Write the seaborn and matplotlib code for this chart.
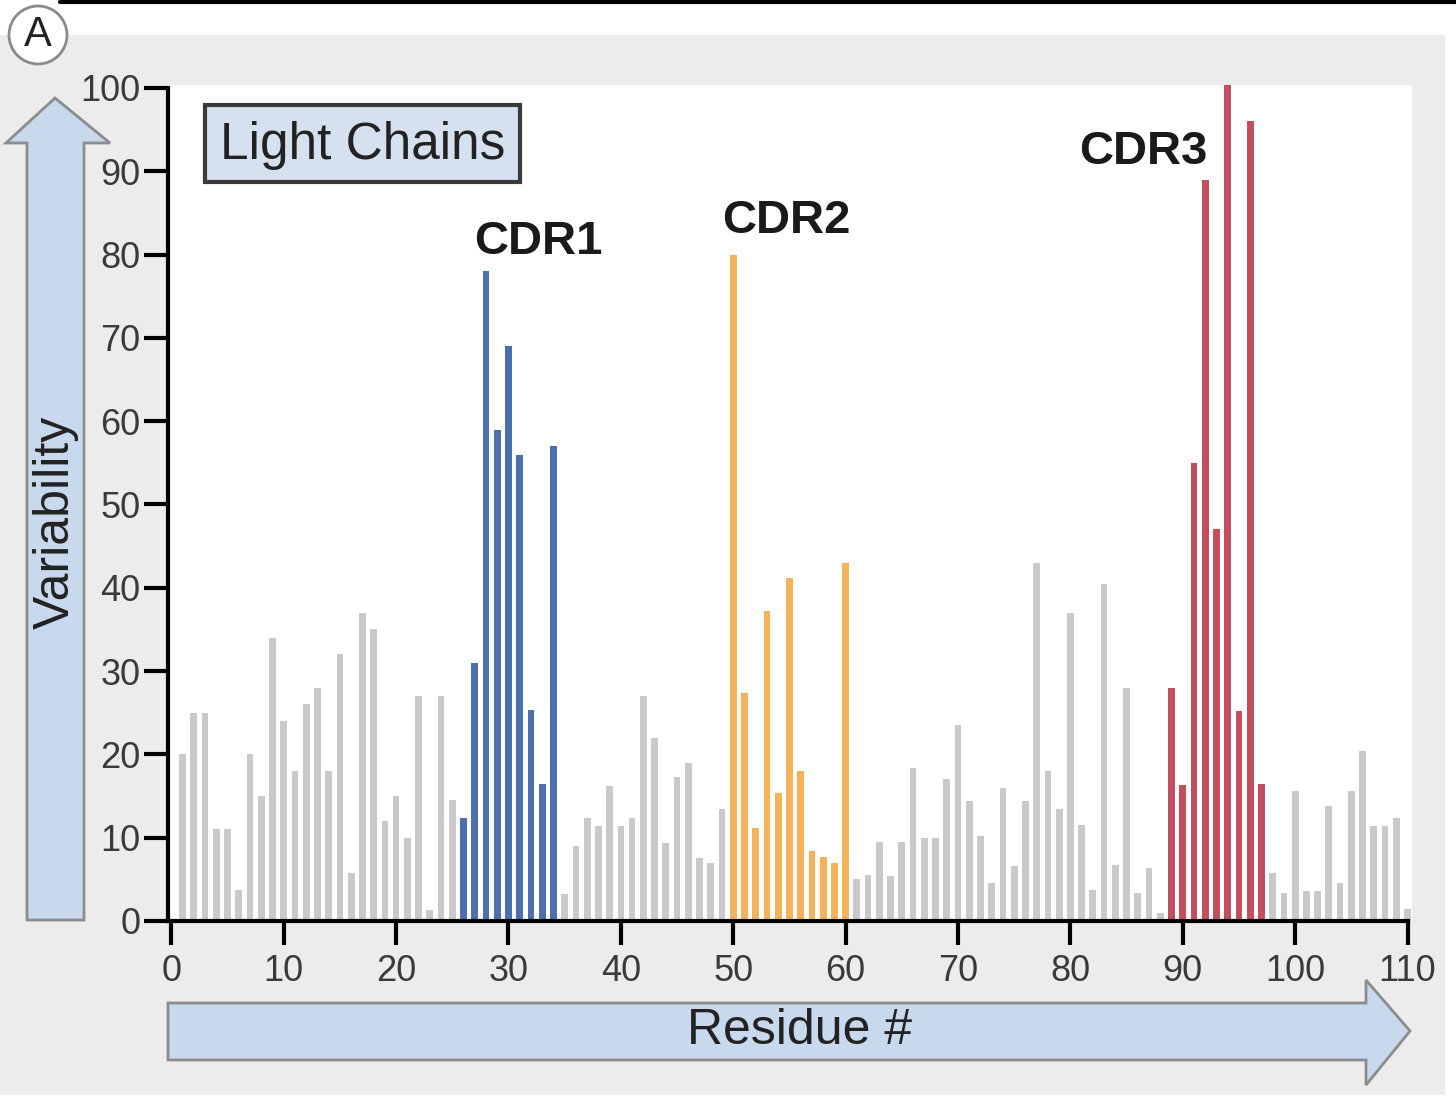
import numpy as np
import pandas as pd
import seaborn as sns
import matplotlib.pyplot as plt
from matplotlib.patches import Polygon, Rectangle, Circle

# variability per residue (light chains)
residues = list(range(1, 111))
variability = [20, 25, 25, 11, 11, 3.7, 20, 15, 34, 24,
               18, 26, 28, 18, 32, 5.8, 37, 35, 12, 15,
               10, 27, 1.3, 27, 14.5, 12.4, 31, 78, 59, 69,
               56, 25.3, 16.4, 57, 3.2, 9, 12.4, 11.4, 16.2, 11.4,
               12.4, 27, 22, 9.4, 17.3, 19, 7.6, 7, 13.5, 80,
               27.4, 11.2, 37.2, 15.4, 41.2, 18, 8.4, 7.7, 7, 43,
               5, 5.5, 9.5, 5.4, 9.5, 18.4, 10, 10, 17, 23.5,
               14.4, 10.2, 4.6, 16, 6.6, 14.4, 43, 18, 13.5, 37,
               11.5, 3.7, 40.5, 6.7, 28, 3.4, 6.4, 1, 28, 16.3,
               55, 89, 47, 100.5, 25.2, 96, 16.4, 5.8, 3.4, 15.6,
               3.6, 3.6, 13.8, 4.6, 15.6, 20.4, 11.4, 11.4, 12.4, 1.4]

cdr_names = ["CDR1", "CDR2", "CDR3"]
cdr_start = [26, 50, 89]
cdr_end = [34, 60, 97]
cdr_label_x = [32.7, 54.7, 86.5]
cdr_label_y = [81.5, 84.0, 92.3]

palette = {"other": "#c9c9c9", "CDR1": "#4c6fae",
           "CDR2": "#f4b358", "CDR3": "#c24e60"}


def region_of(r):
    for name, a, b in zip(cdr_names, cdr_start, cdr_end):
        if a <= r <= b:
            return name
    return "other"


df = pd.DataFrame({"residue": residues, "variability": variability})
df["region"] = [region_of(r) for r in residues]

sns.set_style("white")
plt.rcParams["font.family"] = ["Liberation Sans", "DejaVu Sans"]

W, H = 1456, 1105
fig = plt.figure(figsize=(W / 100, H / 100), dpi=100)
fig.patch.set_facecolor("white")

# background layer in pixel coordinates
bg = fig.add_axes([0, 0, 1, 1], zorder=0)
bg.set_xlim(0, W)
bg.set_ylim(H, 0)
bg.axis("off")
bg.add_patch(Rectangle((0, 35), 1445, 1060, facecolor="#ececec", edgecolor="none"))
bg.plot([60, W], [1.5, 1.5], color="black", lw=3)
bg.add_patch(Circle((38, 35), 29, facecolor="white", edgecolor="#8a8a8a", lw=2))
bg.text(38, 35, "A", ha="center", va="center", fontsize=30, color="#222222")

arrow_fill = "#c8d8ed"
arrow_edge = "#8c8c8c"
# vertical arrow (Variability)
bg.add_patch(Polygon([(27, 920), (27, 143), (6, 143), (55, 98), (110, 143),
                      (84, 143), (84, 920)], closed=True,
                     facecolor=arrow_fill, edgecolor=arrow_edge, lw=2))
bg.text(56, 522, "Variability", rotation=90, ha="center", va="center",
        fontsize=36, color="#222222")
# horizontal arrow (Residue #)
bg.add_patch(Polygon([(168, 1003), (1366, 1003), (1366, 980), (1410, 1031),
                      (1366, 1085), (1366, 1060), (168, 1060)], closed=True,
                     facecolor=arrow_fill, edgecolor=arrow_edge, lw=2))
bg.text(800, 1031, "Residue #", ha="center", va="center",
        fontsize=36, color="#222222")

# main chart
ax = fig.add_axes([168 / W, 1 - 921 / H, (1412 - 168) / W, (921 - 85) / H], zorder=1)
ax.set_facecolor("white")
sns.barplot(data=df, x="residue", y="variability", hue="region",
            palette=palette, native_scale=True, width=0.6, dodge=False,
            saturation=1, legend=False, linewidth=0, ax=ax)
ax.set_xlim(-0.3, 110.4)
ax.set_ylim(0, 100.36)
ax.set_xticks(range(0, 111, 10))
ax.set_yticks(range(0, 101, 10))
ax.set_xlabel("")
ax.set_ylabel("")
for s in ["top", "right"]:
    ax.spines[s].set_visible(False)
ax.spines["left"].set_bounds(0, 100)
ax.spines["bottom"].set_bounds(-0.3, 110)
for s in ["left", "bottom"]:
    ax.spines[s].set_linewidth(3)
    ax.spines[s].set_color("black")
    ax.spines[s].set_zorder(3)
ax.tick_params(axis="both", direction="out", length=17, width=3,
               color="black", labelsize=26, labelcolor="#3a3a3a")
ax.tick_params(axis="y", pad=3)
ax.tick_params(axis="x", pad=7)
ax.tick_params(left=True, bottom=True)

for name, x, y in zip(cdr_names, cdr_label_x, cdr_label_y):
    ax.text(x, y, name, ha="center", va="center", fontsize=34,
            fontweight="bold", color="#1a1a1a")

# "Light Chains" tag, drawn on top of the chart in pixel coordinates
top = fig.add_axes([0, 0, 1, 1], zorder=2)
top.set_xlim(0, W)
top.set_ylim(H, 0)
top.axis("off")
top.patch.set_alpha(0)
top.add_patch(Rectangle((205, 105), 315, 77, facecolor="#d6e1f0",
                        edgecolor="#3a3a3a", lw=3))
top.text(220, 145, "Light Chains", ha="left", va="center", fontsize=37,
         color="#222222")

fig.savefig("out.png", dpi=100)
